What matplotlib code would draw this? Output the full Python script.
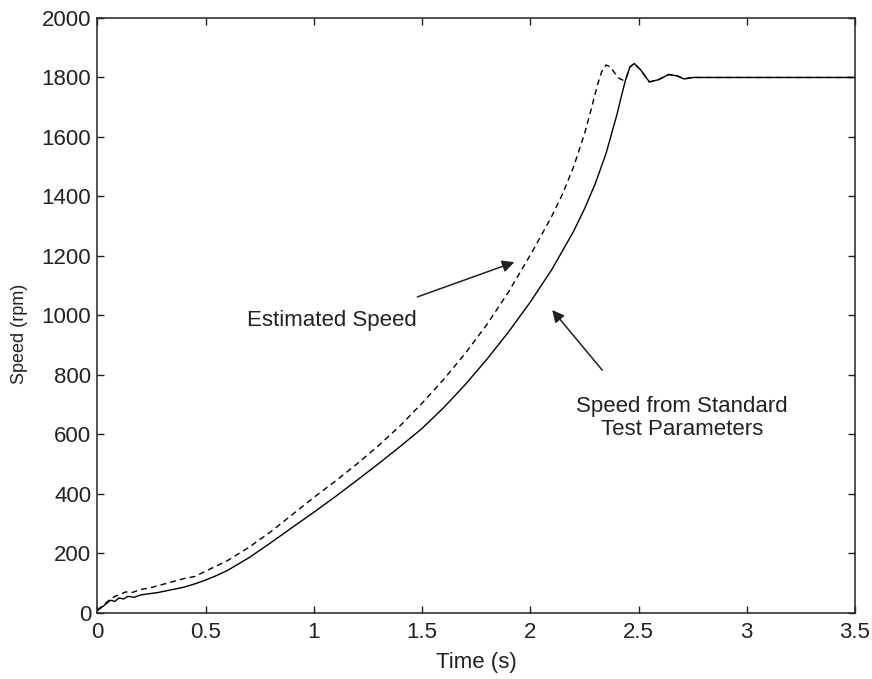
import matplotlib
matplotlib.use("Agg")
import matplotlib.pyplot as plt

# Speed from standard test parameters (solid)
t_std = [0, 0.02, 0.04, 0.06, 0.08, 0.10, 0.12, 0.14, 0.17, 0.20, 0.24, 0.28, 0.32, 0.36,
         0.40, 0.45, 0.50, 0.55, 0.60, 0.70, 0.80, 0.90, 1.00, 1.10, 1.20, 1.30, 1.40,
         1.50, 1.60, 1.70, 1.80, 1.90, 2.00, 2.10, 2.20, 2.25, 2.30, 2.35, 2.40, 2.42,
         2.44, 2.46, 2.48, 2.51, 2.55, 2.59, 2.64, 2.68, 2.71, 2.75, 2.80, 3.00, 3.50]
v_std = [8, 18, 30, 42, 38, 50, 46, 55, 52, 60, 64, 68, 74, 80,
         86, 97, 110, 125, 142, 185, 235, 287, 338, 391, 446, 502, 560,
         620, 690, 768, 853, 945, 1045, 1155, 1283, 1358, 1443, 1545, 1675, 1735,
         1792, 1835, 1847, 1825, 1785, 1792, 1810, 1805, 1795, 1800, 1800, 1800, 1800]

# Estimated speed (dashed)
t_est = [0, 0.02, 0.05, 0.08, 0.10, 0.13, 0.16, 0.20, 0.25, 0.30, 0.35, 0.40, 0.45,
         0.50, 0.60, 0.70, 0.80, 0.90, 1.00, 1.10, 1.20, 1.30, 1.40, 1.50, 1.60, 1.70,
         1.80, 1.90, 2.00, 2.05, 2.10, 2.15, 2.20, 2.25, 2.28, 2.31, 2.33, 2.35, 2.37,
         2.39, 2.41, 2.43, 2.44, 2.46, 2.48, 2.51, 2.55, 2.59, 2.64, 2.68, 2.71, 2.75,
         2.80, 3.00, 3.50]
v_est = [8, 22, 40, 55, 60, 70, 68, 78, 85, 95, 105, 115, 122,
         140, 175, 220, 272, 330, 388, 443, 501, 563, 630, 705, 785, 873,
         970, 1080, 1203, 1268, 1335, 1410, 1500, 1610, 1690, 1775, 1820, 1842, 1835,
         1815, 1797, 1790, 1792, 1835, 1847, 1825, 1785, 1792, 1810, 1805, 1795, 1800,
         1800, 1800, 1800]

x_ticks = [0, 0.5, 1, 1.5, 2, 2.5, 3, 3.5]
x_tick_labels = ["0", "0.5", "1", "1.5", "2", "2.5", "3", "3.5"]
y_ticks = [0, 200, 400, 600, 800, 1000, 1200, 1400, 1600, 1800, 2000]

plt.rcParams['font.family'] = ['Liberation Sans', 'DejaVu Sans']
fig = plt.figure(figsize=(8.72, 6.79), dpi=100)
ax = fig.add_axes([0.1118, 0.0976, 0.8687, 0.8759])

ink = '#222222'
ax.plot(t_est, v_est, color='black', lw=1.0, linestyle=(0, (4.2, 3.0)))
ax.plot(t_std, v_std, color='black', lw=1.0, solid_joinstyle='round')

ax.set_xlim(0, 3.5)
ax.set_ylim(0, 2000)
ax.set_xticks(x_ticks)
ax.set_xticklabels(x_tick_labels)
ax.set_yticks(y_ticks)
ax.tick_params(direction='in', length=5, width=1, top=True, right=True,
               labelsize=16, colors=ink)
ax.tick_params(axis='x', pad=7)
ax.tick_params(axis='y', pad=4.5)
for s in ax.spines.values():
    s.set_linewidth(1.1)
    s.set_color(ink)

ax.set_xlabel("Time (s)", fontsize=16, color=ink, labelpad=6)
ax.set_ylabel("Speed (rpm)", fontsize=13, color=ink)
ax.yaxis.set_label_coords(-0.092, 0.469)

ap = dict(arrowstyle='-|>', color=ink, lw=1.1, mutation_scale=18, shrinkA=0, shrinkB=0)
ax.annotate("", xy=(1.926, 1179), xytext=(1.478, 1062), arrowprops=ap)
ax.text(1.083, 984, "Estimated Speed", fontsize=16, color=ink, ha='center', va='center')
ax.annotate("", xy=(2.101, 1018), xytext=(2.332, 816), arrowprops=ap)
ax.text(2.70, 655, "Speed from Standard\nTest Parameters", fontsize=16, color=ink,
        ha='center', va='center', linespacing=1.15)

fig.savefig("out.png", dpi=100)
